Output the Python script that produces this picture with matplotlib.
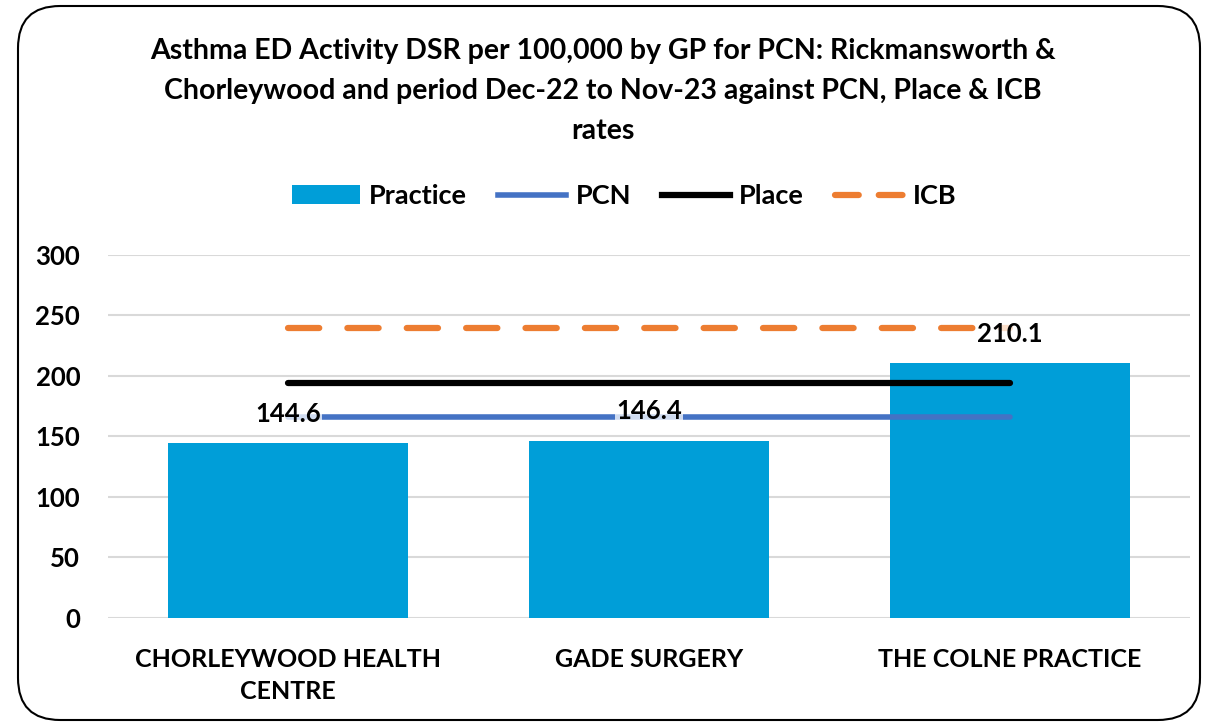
import matplotlib
matplotlib.use("Agg")
import matplotlib.pyplot as plt
from matplotlib.patches import FancyBboxPatch, Patch
from matplotlib.lines import Line2D

categories = ["CHORLEYWOOD HEALTH\nCENTRE", "GADE SURGERY", "THE COLNE PRACTICE"]
practice = [144.6, 146.4, 210.1]
pcn = [165.6, 165.6, 165.6]
place = [193.7, 193.7, 193.7]
icb = [239.7, 239.7, 239.7]
yticks = [0, 50, 100, 150, 200, 250, 300]
title = ("Asthma ED Activity DSR per 100,000 by GP for PCN: Rickmansworth &\n"
         "Chorleywood and period Dec-22 to Nov-23 against PCN, Place & ICB\nrates")

plt.rcParams['font.family'] = ['Lato', 'DejaVu Sans']
plt.rcParams['font.weight'] = 'bold'

fig = plt.figure(figsize=(12.05, 7.24), dpi=100)
border = FancyBboxPatch((18/1205, 4/724), 1182/1205, 714/724,
                        boxstyle="round,pad=0,rounding_size=0.035",
                        transform=fig.transFigure, fill=False,
                        edgecolor="black", linewidth=1.5, mutation_aspect=1205/724)
fig.patches.append(border)

ax = fig.add_axes([108/1205, 1 - 617.7/724, (1190 - 108)/1205, (617.7 - 254.7)/724])
x = list(range(len(categories)))
bars = ax.bar(x, practice, width=0.665, color="#009ED8", zorder=2)
ax.plot(x, pcn, color="#4472C4", linewidth=4, solid_capstyle='round', zorder=3)
ax.plot(x, place, color="black", linewidth=4.5, solid_capstyle='round', zorder=3)
ax.plot(x, icb, color="#ED7D31", linewidth=4.5, dashes=(5, 4.5),
        dash_capstyle='round', zorder=3)

for xi, v in zip(x, practice):
    ax.annotate(f"{v:.1f}", (xi, v), xytext=(0, 21), textcoords="offset points",
                ha="center", va="center", fontsize=18.5, fontweight="bold",
                bbox=dict(boxstyle="square,pad=0.05", fc="white", ec="none", alpha=0.75),
                zorder=4)

ax.set_xlim(-0.5, 2.5)
ax.set_ylim(0, 300)
ax.set_yticks(yticks)
ax.set_yticklabels([str(t) for t in yticks], fontsize=18.5, fontweight="bold")
ax.set_xticks(x)
ax.set_xticklabels(categories, fontsize=18, fontweight="bold", linespacing=1.45)
ax.tick_params(axis='x', length=0, pad=22)
ax.tick_params(axis='y', length=0, pad=20)
ax.grid(axis='y', color="#d9d9d9", linewidth=1.5, zorder=0)
ax.set_axisbelow(True)
for s in ax.spines.values():
    s.set_visible(False)

fig.text(0.5, 1 - 91/724, title, ha="center", va="center", fontsize=20.5,
         fontweight="bold", linespacing=1.65)

handles = [Patch(facecolor="#009ED8", edgecolor="none"),
           Line2D([], [], color="#4472C4", linewidth=4),
           Line2D([], [], color="black", linewidth=4.5),
           Line2D([], [], color="#ED7D31", linewidth=4.5, dashes=(3.8, 3.2),
                  dash_capstyle='round')]
fig.legend(handles, ["Practice", "PCN", "Place", "ICB"], loc="center",
           bbox_to_anchor=(624/1205, 1 - 196/724), ncol=4, frameon=False,
           handlelength=2.5, handletextpad=0.35, columnspacing=1.15,
           prop={'weight': 'bold', 'size': 19.5})

fig.savefig("out.png", dpi=100)
